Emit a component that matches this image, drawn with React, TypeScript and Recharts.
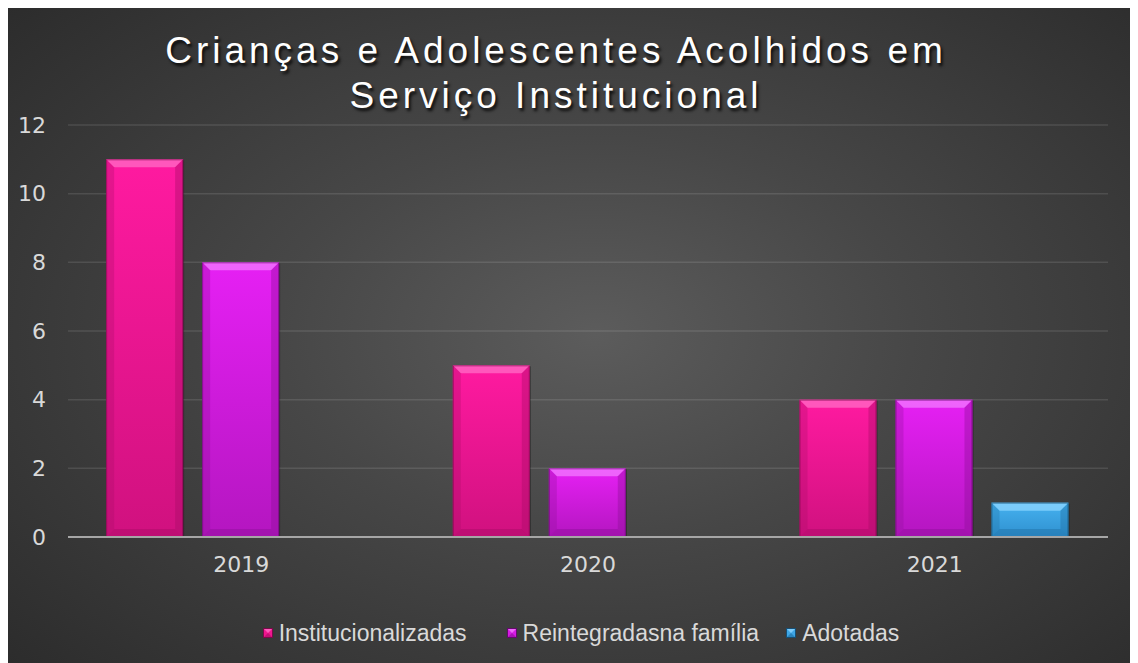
import React from 'react';
import { BarChart, Bar, XAxis, YAxis, CartesianGrid, Legend } from 'recharts';

const categories = ['2019', '2020', '2021'];
const institucionalizadas = [11, 5, 4];
const reintegradas = [8, 2, 4];
const adotadas = [0, 0, 1];
const yTicks = [0, 2, 4, 6, 8, 10, 12];
const titleLines = ['Crianças e Adolescentes Acolhidos em', 'Serviço Institucional'];

const seriesNames = ['Institucionalizadas', 'Reintegradasna família', 'Adotadas'];

const data = categories.map((c, i) => ({
  year: c,
  inst: institucionalizadas[i],
  reint: reintegradas[i],
  adot: adotadas[i],
}));

const palettes: Record<string, { top: string; bottom: string; light: string; dark: string; edge: string; main: string }> = {
  inst: { top: '#ff1aa0', bottom: '#d0117f', light: '#ff6cc6', dark: '#a80c66', edge: '#7a0a4a', main: '#f0168f' },
  reint: { top: '#e620f4', bottom: '#b416c0', light: '#f27bff', dark: '#8e0f99', edge: '#640a6c', main: '#d61be4' },
  adot: { top: '#46b2f0', bottom: '#2f90cf', light: '#8ed5ff', dark: '#1f6fa3', edge: '#164f75', main: '#3ea6e6' },
};

const makeShape = (key: string) => (props: any) => {
  const { x, y, width, height } = props;
  if (!height || height <= 0 || !width) return <g />;
  const p = palettes[key];
  const b = Math.min(8, height / 2, width / 2);
  const w = width;
  const h = height;
  return (
    <g>
      <rect x={x + 1} y={y + 1} width={w} height={h} fill="rgba(0,0,0,0.35)" />
      <rect x={x} y={y} width={w} height={h} fill={`url(#grad-${key})`} />
      <polygon points={`${x},${y} ${x + w},${y} ${x + w - b},${y + b} ${x + b},${y + b}`} fill={p.light} opacity={0.75} />
      <polygon points={`${x},${y} ${x + b},${y + b} ${x + b},${y + h - b} ${x},${y + h}`} fill={p.dark} opacity={0.3} />
      <polygon points={`${x + w},${y} ${x + w - b},${y + b} ${x + w - b},${y + h - b} ${x + w},${y + h}`} fill={p.dark} opacity={0.4} />
      <polygon points={`${x},${y + h} ${x + b},${y + h - b} ${x + w - b},${y + h - b} ${x + w},${y + h}`} fill={p.dark} opacity={0.45} />
      <rect x={x + 0.5} y={y + 0.5} width={w - 1} height={h - 1} fill="none" stroke={p.edge} strokeWidth={1} opacity={0.6} />
    </g>
  );
};

const keys = ['inst', 'reint', 'adot'];
const legendGaps = [0, 40, 27];

const renderLegend = (props: any) => {
  const payload = [...(props.payload || [])].sort(
    (a: any, b: any) => keys.indexOf(a.dataKey) - keys.indexOf(b.dataKey)
  );
  return (
    <div style={{ display: 'flex', justifyContent: 'center', alignItems: 'center', fontFamily: '"Liberation Sans", Arial, sans-serif', paddingLeft: 46 }}>
      {payload.map((entry: any, i: number) => {
        const k = entry.dataKey as string;
        const p = palettes[k];
        return (
          <div key={i} style={{ display: 'flex', alignItems: 'center', marginLeft: legendGaps[i] }}>
            <svg width={10} height={10} style={{ marginRight: 6 }}>
              <rect x={0} y={0} width={10} height={10} fill={p.main} />
              <polygon points="0,0 10,0 5,5" fill={p.light} opacity={0.8} />
              <polygon points="0,10 10,10 5,5" fill={p.dark} opacity={0.6} />
              <rect x={0.5} y={0.5} width={9} height={9} fill="none" stroke={p.edge} strokeWidth={1} />
            </svg>
            <span style={{ color: '#d9d9d9', fontSize: 23, lineHeight: '24px' }}>{entry.value}</span>
          </div>
        );
      })}
    </div>
  );
};

const tickStyle = { fill: '#d9d9d9', fontSize: 22, fontFamily: '"DejaVu Sans", sans-serif' };

export default function App() {
  return (
    <div
      style={{
        position: 'relative',
        width: 1130,
        height: 657,
        marginTop: -2,
        background: 'radial-gradient(ellipse 70% 75% at 52% 50%, #5c5c5c 0%, #474747 40%, #2c2c2c 100%)',
        overflow: 'hidden',
      }}
    >
      <div
        style={{
          position: 'absolute',
          left: 0,
          width: 1096,
          top: 22,
          textAlign: 'center',
          color: '#ffffff',
          fontFamily: '"Liberation Sans", Arial, sans-serif',
          fontSize: 37,
          lineHeight: '45px',
          letterSpacing: 4,
          textShadow: '2px 3px 3px rgba(0,0,0,0.8)',
          zIndex: 2,
        }}
      >
        {titleLines.map((t, i) => (
          <div key={i}>{t}</div>
        ))}
      </div>
      <BarChart
        width={1130}
        height={657}
        data={data}
        margin={{ top: 119, right: 30, bottom: 72, left: 0 }}
        barCategoryGap="11%"
        barGap={19}
      >
        <defs>
          {keys.map((k) => (
            <linearGradient key={k} id={`grad-${k}`} x1="0" y1="0" x2="0" y2="1">
              <stop offset="0%" stopColor={palettes[k].top} />
              <stop offset="100%" stopColor={palettes[k].bottom} />
            </linearGradient>
          ))}
        </defs>
        <CartesianGrid vertical={false} stroke="rgba(255,255,255,0.11)" strokeWidth={1.5} />
        <XAxis
          dataKey="year"
          axisLine={{ stroke: '#a6a6a6', strokeWidth: 2 }}
          tickLine={false}
          tickSize={0}
          tickMargin={19}
          tick={tickStyle}
        />
        <YAxis
          domain={[0, 12]}
          ticks={yTicks}
          width={60}
          axisLine={false}
          tickLine={false}
          tickSize={0}
          tickMargin={22}
          tick={tickStyle}
        />
        <Legend verticalAlign="bottom" content={renderLegend} wrapperStyle={{ bottom: 18 }} />
        <Bar dataKey="inst" name={seriesNames[0]} fill={palettes.inst.main} shape={makeShape('inst')} isAnimationActive={false} />
        <Bar dataKey="reint" name={seriesNames[1]} fill={palettes.reint.main} shape={makeShape('reint')} isAnimationActive={false} />
        <Bar dataKey="adot" name={seriesNames[2]} fill={palettes.adot.main} shape={makeShape('adot')} isAnimationActive={false} />
      </BarChart>
    </div>
  );
}
